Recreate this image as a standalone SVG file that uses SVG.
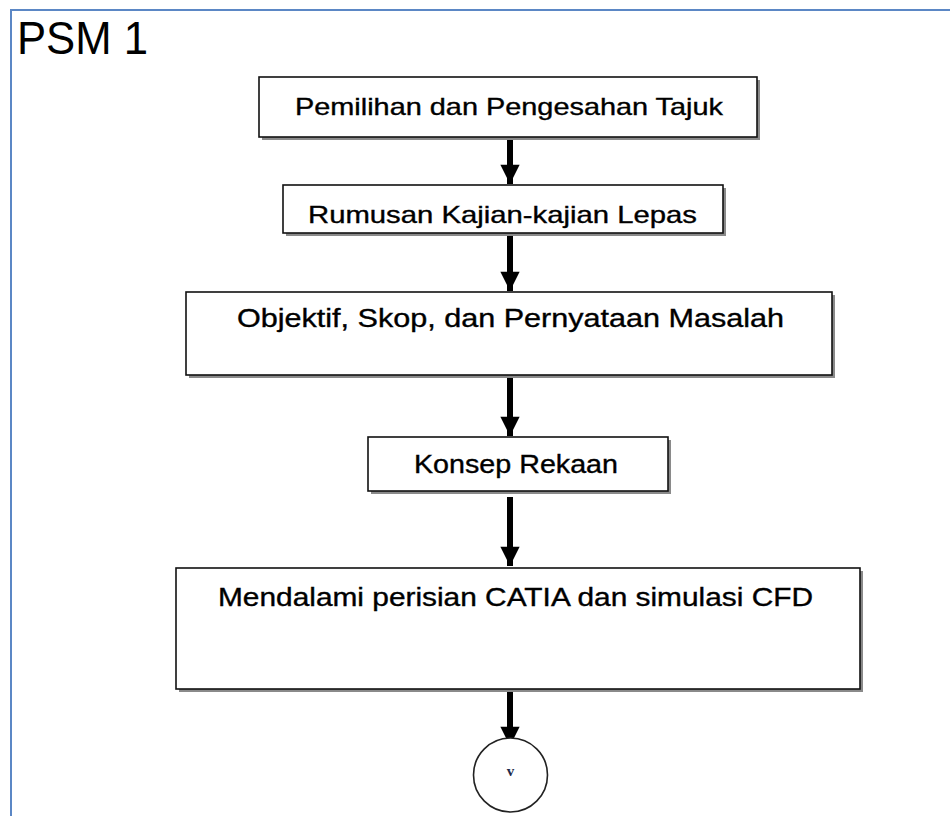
<svg xmlns="http://www.w3.org/2000/svg" width="950" height="816" viewBox="0 0 950 816">
<defs>
<style>
.box{fill:#fff;stroke:#111;stroke-width:1.6}
.sh{fill:#8a8a8a}
.t{font-family:"Liberation Sans",Arial,sans-serif;font-size:24px;fill:#000;stroke:#000;stroke-width:0.35}
.c{stroke:#000;stroke-width:6;fill:none}
</style>
<marker id="ah" viewBox="0 0 10 10" refX="10" refY="5" markerWidth="3.5" markerHeight="3.2" orient="auto" markerUnits="strokeWidth">
<path d="M0,0 L10,5 L0,10 Z" fill="#000"/>
</marker>
</defs>
<rect width="950" height="816" fill="#fff"/>
<path d="M11,816 V10 H950" fill="none" stroke="#5b87c5" stroke-width="2"/>
<text x="17" y="54" style="font-family:'Liberation Sans',Arial,sans-serif;font-size:46px;fill:#000" textLength="131" lengthAdjust="spacingAndGlyphs">PSM 1</text>
<g id="connectors">
<line class="c" x1="510" y1="137" x2="510" y2="184" marker-end="url(#ah)"/>
<line class="c" x1="510" y1="234" x2="510" y2="291" marker-end="url(#ah)"/>
<line class="c" x1="510" y1="376" x2="510" y2="436" marker-end="url(#ah)"/>
<line class="c" x1="510" y1="497" x2="510" y2="566" marker-end="url(#ah)"/>
<line class="c" x1="510" y1="690" x2="510" y2="746" marker-end="url(#ah)"/>
</g>
<g id="n1">
<rect class="sh" x="262" y="80" width="498" height="60"/>
<rect class="box" x="259" y="77" width="498" height="60"/>
<text class="t" x="295" y="115" textLength="428" lengthAdjust="spacingAndGlyphs">Pemilihan dan Pengesahan Tajuk</text>
</g>
<g id="n2">
<rect class="sh" x="286" y="188" width="440" height="48"/>
<rect class="box" x="283" y="185" width="440" height="48"/>
<text class="t" x="308" y="223" textLength="389" lengthAdjust="spacingAndGlyphs">Rumusan Kajian-kajian Lepas</text>
</g>
<g id="n3">
<rect class="sh" x="189" y="295" width="646" height="83"/>
<rect class="box" x="186" y="292" width="646" height="83"/>
<text class="t" x="237" y="327" style="font-size:25px" textLength="547" lengthAdjust="spacingAndGlyphs">Objektif, Skop, dan Pernyataan Masalah</text>
</g>
<g id="n4">
<rect class="sh" x="371" y="440" width="300" height="54"/>
<rect class="box" x="368" y="437" width="300" height="54"/>
<text class="t" x="414" y="473" style="font-size:25px" textLength="204" lengthAdjust="spacingAndGlyphs">Konsep Rekaan</text>
</g>
<g id="n5">
<rect class="sh" x="179" y="571" width="684" height="121"/>
<rect class="box" x="176" y="568" width="684" height="121"/>
<text class="t" x="218" y="606" style="font-size:25px" textLength="595" lengthAdjust="spacingAndGlyphs">Mendalami perisian CATIA dan simulasi CFD</text>
</g>
<g id="n6">
<circle cx="510.5" cy="775" r="37" fill="#fff" stroke="#222" stroke-width="1.6"/>
<text x="510.5" y="776" text-anchor="middle" style="font-family:'Liberation Serif',serif;font-size:15px;font-weight:bold;fill:#1f2a4a">v</text>
</g>
</svg>
